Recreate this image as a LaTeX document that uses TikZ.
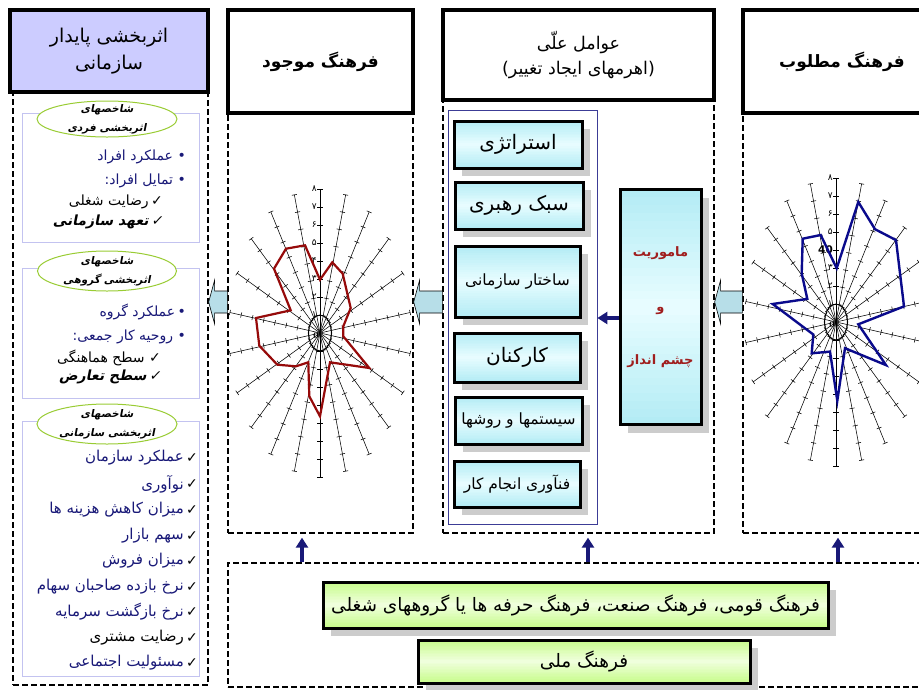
\documentclass[tikz,border=0pt]{standalone}
\usepackage{fontspec}
\usetikzlibrary{arrows.meta,calc,shadows,shapes.geometric}
\TeXXeTstate=1
\newfontfamily\arabicfont[Script=Arabic]{DejaVu Sans}
\newcommand\ar[1]{\beginR #1\endR}
\definecolor{mynavy}{RGB}{25,25,120}
\definecolor{lavfill}{RGB}{204,204,255}
\definecolor{lavline}{RGB}{195,195,240}
\definecolor{ellline}{RGB}{153,204,51}
\definecolor{arrfill}{RGB}{183,222,232}
\definecolor{mvred}{RGB}{160,30,30}
\definecolor{polyred}{RGB}{150,10,10}
\definecolor{polyblue}{RGB}{10,10,140}
\definecolor{cyanedge}{RGB}{180,236,245}
\definecolor{cyanmid}{RGB}{232,253,255}
\definecolor{greenedge}{RGB}{200,252,140}
\definecolor{greenmid}{RGB}{240,255,222}
\definecolor{blueline}{RGB}{60,60,150}
\newcommand\radarchart[1]{%
  \foreach \i in {0,...,21}{%
    \pgfmathsetmacro\rsn{sin(\i*360/22)}%
    \pgfmathsetmacro\rcs{cos(\i*360/22)}%
    \pgfmathsetmacro\rL{sqrt((0.91*\rsn)^2+(1.44*\rcs)^2)}%
    \pgfmathsetmacro\nx{2.6*1.44*\rcs/\rL}%
    \pgfmathsetmacro\ny{2.6*0.91*\rsn/\rL}%
    \draw[spoke] (0,0) -- ({91*\rsn},{-144*\rcs});
    \foreach \k in {1,...,8}{%
      \draw[spoke] ({91*\k/8*\rsn-\nx},{-144*\k/8*\rcs-\ny}) -- ({91*\k/8*\rsn+\nx},{-144*\k/8*\rcs+\ny});
    }
  }
  \draw[line width=0.9pt] (0,0) ellipse [x radius=11.4, y radius=18];
  \foreach \k/\d in {1/۱,2/۲,3/۳,4/#1,5/۵,6/۶,7/۷,8/۸}{
    \node[digit] at (-2.5,{-18*\k}) {\d};
  }
  \node[font=\bfseries\fontsize{9}{9}\selectfont, inner sep=0pt] at (-4,3) {0};
}
\newcommand\barrow[2]{%
  \draw[blockarrow] (#1) -- ++(6,-22) -- ++(0,11) -- ($(#2)+(0,-11)$) -- ($(#2)+(0,11)$) -- ($(#1)+(6,11)$) -- ++(0,11) -- cycle;}
\tikzset{vgrad/.style 2 args={path picture={
  \foreach \j in {0,...,29}{
    \pgfmathtruncatemacro\pct{round(100*abs(\j-14.5)/14.5)}
    \fill[#1!\pct!#2] ($(path picture bounding box.north west)!{\j/30}!(path picture bounding box.south west)$) rectangle ($(path picture bounding box.north east)!{(\j+1.3)/30}!(path picture bounding box.south east)$);
  }}}}
\begin{document}
\begin{tikzpicture}[x=1pt,y=-1pt,
  dashbox/.style={draw=black, dash pattern=on 6pt off 3pt, line width=1.3pt, inner sep=0pt},
  hdr/.style={draw=black, line width=3.8pt, fill=white, inner sep=0pt, align=center},
  spoke/.style={line width=0.55pt, black},
  digit/.style={font=\arabicfont\fontsize{9}{9}\selectfont, inner sep=0.5pt, anchor=east},
  inrect/.style={draw=lavline, line width=0.8pt, inner sep=0pt},
  oval/.style={ellipse, draw=ellline, line width=1pt, fill=white, inner sep=0pt},
  ovaltext/.style={align=center, inner sep=0pt, font=\arabicfont\bfseries\fontsize{10.5}{19}\selectfont\addfontfeature{FakeSlant=0.2}},
  item/.style={anchor=east, inner sep=0pt, font=\arabicfont\fontsize{14}{16}\selectfont},
  bitem/.style={anchor=east, inner sep=0pt, font=\arabicfont\bfseries\fontsize{14}{16}\selectfont\addfontfeature{FakeSlant=0.2}},
  chk/.style={anchor=east, inner sep=0pt, font=\arabicfont\fontsize{14}{16}\selectfont},
  lever/.style={draw=black, line width=3pt, fill=cyanmid, vgrad={cyanedge}{cyanmid}, inner sep=0pt, align=center,
     drop shadow={shadow xshift=8pt, shadow yshift=-8pt, fill=gray!40, opacity=1},
     font=\arabicfont\fontsize{20}{22}\selectfont},
  smalllever/.style={lever, font=\arabicfont\fontsize{15.5}{18}\selectfont},
  gbox/.style={draw=black, line width=3pt, fill=greenmid, vgrad={greenedge}{greenmid}, inner sep=0pt,
     drop shadow={shadow xshift=8pt, shadow yshift=-8pt, fill=gray!40, opacity=1},
     font=\arabicfont\fontsize{18.5}{20}\selectfont},
  blockarrow/.style={draw=black, line width=0.6pt, fill=arrfill},
  navyarrow/.style={draw=mynavy, line width=3.5pt, -{Triangle[length=10pt,width=12pt]}},
  polyr/.style={draw=polyred, line width=2.2pt, line join=miter},
  polyb/.style={draw=polyblue, line width=2.4pt, line join=miter}
]
\useasboundingbox (0,0) rectangle (919,689);
\clip (0,0) rectangle (919,689);
\fill[white] (0,0) rectangle (919,689);

% dashed frames
\node[dashbox, minimum width=195pt, minimum height=593pt] (c1) at (110.5,388.5) {};
\node[dashbox, minimum width=185pt, minimum height=420pt] (c2) at (320.5,323) {};
\node[dashbox, minimum width=271pt, minimum height=433pt] (c3) at (578.5,316.5) {};
\node[dashbox, minimum width=198pt, minimum height=420pt] (c4) at (842,323) {};
\node[dashbox, minimum width=713pt, minimum height=124pt] (bot) at (584.5,625) {};

% headers
\node[hdr, fill=lavfill, minimum width=198pt, minimum height=82pt, font=\arabicfont\fontsize{19}{27}\selectfont] (h1) at (109,51) {\ar{اثربخشی پایدار}\\\ar{سازمانی}};
\node[hdr, minimum width=185pt, minimum height=103pt, font=\arabicfont\bfseries\fontsize{17}{20}\selectfont] (h2) at (320.5,61.5) {\ar{فرهنگ موجود}};
\node[hdr, minimum width=271pt, minimum height=90pt, font=\arabicfont\fontsize{17.5}{25}\selectfont] (h3) at (578.5,55) {\ar{عوامل علّی}\\\ar{(اهرمهای ایجاد تغییر)}};
\node[hdr, minimum width=198pt, minimum height=103pt, font=\arabicfont\bfseries\fontsize{17}{20}\selectfont] (h4) at (842,61.5) {\ar{فرهنگ مطلوب}};

% left column
\node[inrect, minimum width=177pt, minimum height=129pt] (r1) at (110.5,177.5) {};
\node[inrect, minimum width=177pt, minimum height=130pt] (r2) at (110.5,333) {};
\node[inrect, minimum width=177pt, minimum height=255pt] (r3) at (110.5,548.5) {};
\node[oval, minimum width=140pt, minimum height=36pt] (e1) at (107,119) {};
\node[ovaltext] (e1t) at (e1) {\ar{شاخصهای}\\\ar{اثربخشی فردی}};
\node[oval, minimum width=139pt, minimum height=40pt] (e2) at (107,271) {};
\node[ovaltext] (e2t) at (e2) {\ar{شاخصهای}\\\ar{اثربخشی گروهی}};
\node[oval, minimum width=140pt, minimum height=40pt] (e3) at (107,424) {};
\node[ovaltext] (e3t) at (e3) {\ar{شاخصهای}\\\ar{اثربخشی سازمانی}};

\node[item, text=mynavy] (l11) at (186,157) {\ar{•\ عملکرد افراد}};
\node[item, text=mynavy] (l12) at (186,181) {\ar{•\ تمایل افراد:}};
\node[item] (l13) at (163,202) {\ar{✓\,رضایت شغلی}};
\node[bitem] (l14) at (163,222) {\ar{✓\,تعهد سازمانی}};

\node[item, text=mynavy] (l21) at (186,312) {\ar{•\,عملکرد گروه}};
\node[item, text=mynavy] (l22) at (186,337) {\ar{•\ روحیه کار جمعی:}};
\node[item] (l23) at (161,358) {\ar{✓\ سطح هماهنگی}};
\node[bitem] (l24) at (161,377) {\ar{✓\,سطح تعارض}};

\foreach \n/\yy/\tx/\col in {1/458/عملکرد سازمان/mynavy, 2/484/نوآوری/mynavy, 3/510/میزان کاهش هزینه ها/mynavy, 4/536/سهم بازار/mynavy, 5/561/میزان فروش/mynavy, 6/587/نرخ بازده صاحبان سهام/mynavy, 7/612/نرخ بازگشت سرمایه/mynavy, 8/638/رضایت مشتری/black, 9/663/مسئولیت اجتماعی/mynavy}{
  \node[chk] (k3\n) at (198,\yy) {✓};
  \node[item, text=\col, font=\arabicfont\fontsize{15}{17}\selectfont] (l3\n) at (184,\yy) {\ar{\tx}};
}

% radar charts
\begin{scope}[shift={(320,333)}]
  \radarchart{۴}
  \draw[polyr] (0,-53.3) -- (12.3,-70.7) -- (22.7,-59.3) -- (30.7,-25) -- (23.3,-6.7) -- (23.3,3.3) -- (49.3,35) -- (10,29.3) -- (0,83.3) -- (-10.7,63.3) -- (-11.7,29.3) -- (-24,33.3) -- (-42.7,31.7) -- (-60.7,12.7) -- (-64,-15) -- (-29.3,-22.7) -- (-46,-64.3) -- (-34,-84.3) -- (-15,-87.7) -- cycle;
\end{scope}
\begin{scope}[shift={(836,322)}]
  \radarchart{{\bfseries\fontsize{10.5}{10.5}\selectfont 40}}
  \draw[polyb] (0.7,-53.7) -- (22.3,-120) -- (39,-92.8) -- (60,-81.9) -- (68,-15.6) -- (22.3,2.3) -- (50,43.1) -- (9,26.2) -- (1.3,78.8) -- (-6,29.6) -- (-24.3,31.3) -- (-22.7,12.5) -- (-63.3,-18) -- (-28.7,-23.1) -- (-34.3,-48.6) -- (-33.3,-83.3) -- (-15.3,-87) -- cycle;
\end{scope}

% middle column
\node[draw=blueline, line width=0.8pt, minimum width=149pt, minimum height=414pt, inner sep=0pt] (ir) at (522.5,317) {};
\node[lever, minimum width=128pt, minimum height=47pt] (b1) at (518,144.5) {\ar{استراتژی}};
\node[lever, minimum width=128pt, minimum height=47pt] (b2) at (519,205.5) {\ar{سبک رهبری}};
\node[smalllever, minimum width=125pt, minimum height=71pt] (b3) at (517.5,281.5) {\ar{ساختار سازمانی}};
\node[lever, minimum width=126pt, minimum height=49pt] (b4) at (517,357.5) {\ar{کارکنان}};
\node[smalllever, minimum width=127pt, minimum height=47pt] (b5) at (518.5,420.5) {\ar{سیستمها و روشها}};
\node[smalllever, minimum width=126pt, minimum height=46pt] (b6) at (517,484) {\ar{فنآوری انجام کار}};
\node[lever, minimum width=81pt, minimum height=235pt, font=\arabicfont\bfseries\fontsize{13}{15}\selectfont, text=mvred] (mv) at (660.5,307) {\ar{ماموریت}\\[40pt]\ar{و}\\[38pt]\ar{چشم انداز}};

\coordinate (my) at (0,318);
\draw[navyarrow] (mv.west |- my) -- (ir.east |- my);

% block arrows between columns
\coordinate (ay) at (0,302);
\coordinate (t1) at (c1.east |- ay); \coordinate (s1) at (c2.west |- ay);
\coordinate (t2) at (c2.east |- ay); \coordinate (s2) at (c3.west |- ay);
\coordinate (t3) at (c3.east |- ay); \coordinate (s3) at (c4.west |- ay);
\barrow{t1}{s1}
\barrow{t2}{s2}
\barrow{t3}{s3}

% bottom boxes
\node[gbox, minimum width=505pt, minimum height=46pt] (g1) at (575.5,605) {\ar{فرهنگ قومی، فرهنگ صنعت، فرهنگ حرفه ها یا گروههای شغلی}};
\node[gbox, minimum width=332pt, minimum height=43pt] (g2) at (584,661.5) {\ar{فرهنگ ملی}};

% up arrows
\coordinate (u1) at (302,0); \coordinate (u2) at (588,0); \coordinate (u3) at (838,0);
\draw[navyarrow] (bot.north -| u1) -- ($(c2.south -| u1)+(0,4)$);
\draw[navyarrow] (bot.north -| u2) -- ($(c3.south -| u2)+(0,4)$);
\draw[navyarrow] (bot.north -| u3) -- ($(c4.south -| u3)+(0,4)$);
\end{tikzpicture}
\end{document}
